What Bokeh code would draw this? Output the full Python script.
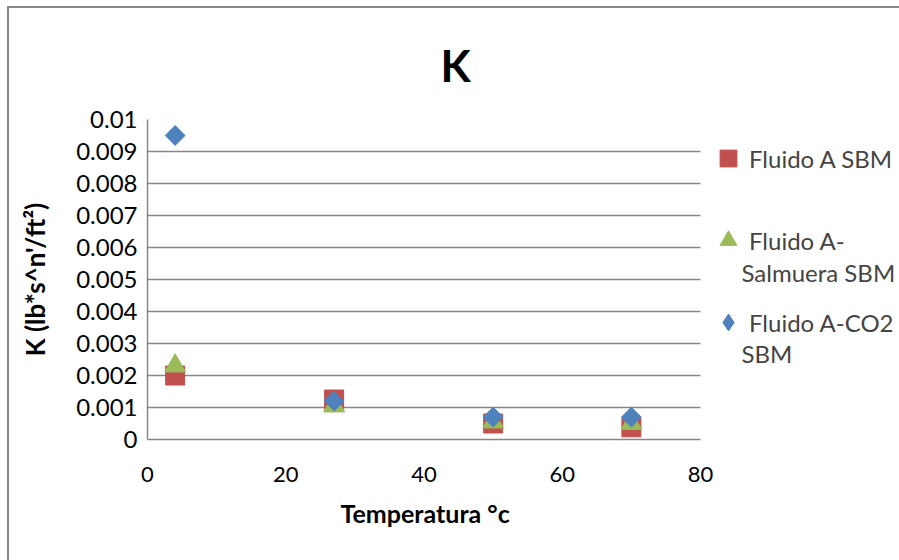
from bokeh.plotting import figure
from bokeh.models import (Legend, LegendItem, Label, FixedTicker, CustomJSTickFormatter,
                          Range1d, Title)
from bokeh.embed import file_html
from bokeh.resources import INLINE
import math

# ---- data ----
temps = [4, 27, 50, 70]
k_sbm = [0.0020, 0.00125, 0.0005, 0.00038]
k_salmuera = [0.0023, 0.00105, 0.00055, 0.0005]
k_co2 = [0.0095, 0.0012, 0.0007, 0.0007]
x_ticks = [0, 20, 40, 60, 80]
y_ticks = [0, 0.001, 0.002, 0.003, 0.004, 0.005, 0.006, 0.007, 0.008, 0.009, 0.01]
series_names = ["Fluido A SBM", "Fluido A-", "Fluido A-CO2"]
continuation = ["Salmuera SBM", "SBM"]

FONT = "Lato"
GRAY = "#868686"
RED = "#C0504D"
GREEN = "#9BBB59"
BLUE = "#4F81BD"

# layout (pixels)
W, H = 899, 560
LEFT, TOP, BOTTOM = 147, 119, 121
PLOT_RIGHT = 700          # where the x axis (0..80) ends
x_start, x_end_axis = x_ticks[0], x_ticks[-1]
# the frame extends to the right edge so the legend (drawn inside it) is not clipped
x_end = x_start + (x_end_axis - x_start) * (W - LEFT) / (PLOT_RIGHT - LEFT)

p = figure(width=W, height=H, output_backend="svg", toolbar_location=None,
           x_range=Range1d(x_start, x_end), y_range=Range1d(y_ticks[0], y_ticks[-1]),
           min_border_left=LEFT, min_border_right=0, min_border_top=TOP,
           min_border_bottom=BOTTOM, border_fill_color=None, background_fill_color=None)
p.styles = {
    "background": ("linear-gradient(#878787,#878787) 7px 6px / 2px 100% no-repeat, "
                   "linear-gradient(#878787,#878787) 7px 6px / 100% 2px no-repeat, white"),
}

p.title.text = "K"
p.title.text_font = FONT
p.title.text_font_size = "44px"
p.title.text_font_style = "bold"
p.title.text_color = "black"
p.title.align = "left"
p.title.offset = 293
p.title.standoff = 58

p.outline_line_color = None
p.xgrid.visible = False
p.ygrid.grid_line_color = GRAY
p.ygrid.grid_line_width = 1.3
p.ygrid.ticker = FixedTicker(ticks=y_ticks)
p.ygrid.cross_bounds = (x_start, x_end_axis)

p.xaxis.ticker = FixedTicker(ticks=x_ticks)
p.xaxis.bounds = (x_start, x_end_axis)
p.yaxis.ticker = FixedTicker(ticks=y_ticks)
p.yaxis.formatter = CustomJSTickFormatter(code="return parseFloat(tick.toFixed(3)).toString();")

for ax in (p.xaxis[0], p.yaxis[0]):
    ax.axis_line_color = GRAY
    ax.axis_line_width = 1.5
    ax.major_tick_line_color = None
    ax.minor_tick_line_color = None
    ax.major_label_text_font = FONT
    ax.major_label_text_color = "black"
    ax.axis_label_text_font = FONT
    ax.axis_label_text_font_style = "bold"
    ax.axis_label_text_color = "black"

p.xaxis.major_label_text_font_size = "22px"
p.yaxis.major_label_text_font_size = "24px"
p.yaxis.axis_label_text_font_size = "26px"

p.xaxis.major_label_standoff = 21
p.yaxis.axis_label = "K (lb*s^n'/ft²)"
p.yaxis.major_label_standoff = 4
p.yaxis.axis_label_standoff = 22

# x-axis title, centred under the 0..80 axis (not under the wider frame)
p.add_layout(Title(text="Temperatura °c", align="left", offset=193, text_font=FONT,
                   text_font_size="25px", text_font_style="bold", text_color="black",
                   standoff=22), "below")

# legend-only swatch for the diamond series (hidden beneath the rotated squares)
r3_key = p.scatter(temps, k_co2, marker="diamond", size=19, fill_color=BLUE, line_color=BLUE)
r1 = p.scatter(temps, k_sbm, marker="square", size=19, fill_color=RED, line_color=RED)
r2 = p.scatter(temps, k_salmuera, marker="triangle", size=21, fill_color=GREEN, line_color=GREEN)
r3 = p.scatter(temps, k_co2, marker="square", size=14, angle=math.pi / 4,
               fill_color=BLUE, line_color=BLUE)

legend = Legend(items=[LegendItem(label=series_names[0], renderers=[r1]),
                       LegendItem(label=series_names[1], renderers=[r2]),
                       LegendItem(label=series_names[2], renderers=[r3_key])],
                location=(560, 96), border_line_color=None, background_fill_alpha=0,
                padding=0, margin=0, spacing=40, glyph_width=42, glyph_height=42,
                label_standoff=-1, label_height=42, label_text_font=FONT,
                label_text_font_size="24px", label_text_baseline="middle")
p.add_layout(legend)

for txt, yy in zip(continuation, [167, 86]):
    p.add_layout(Label(x=594, y=yy, x_units="screen", y_units="screen", text=txt,
                       text_font=FONT, text_font_size="24px", text_baseline="middle"))

open("out.html", "w").write(file_html(p, INLINE))
